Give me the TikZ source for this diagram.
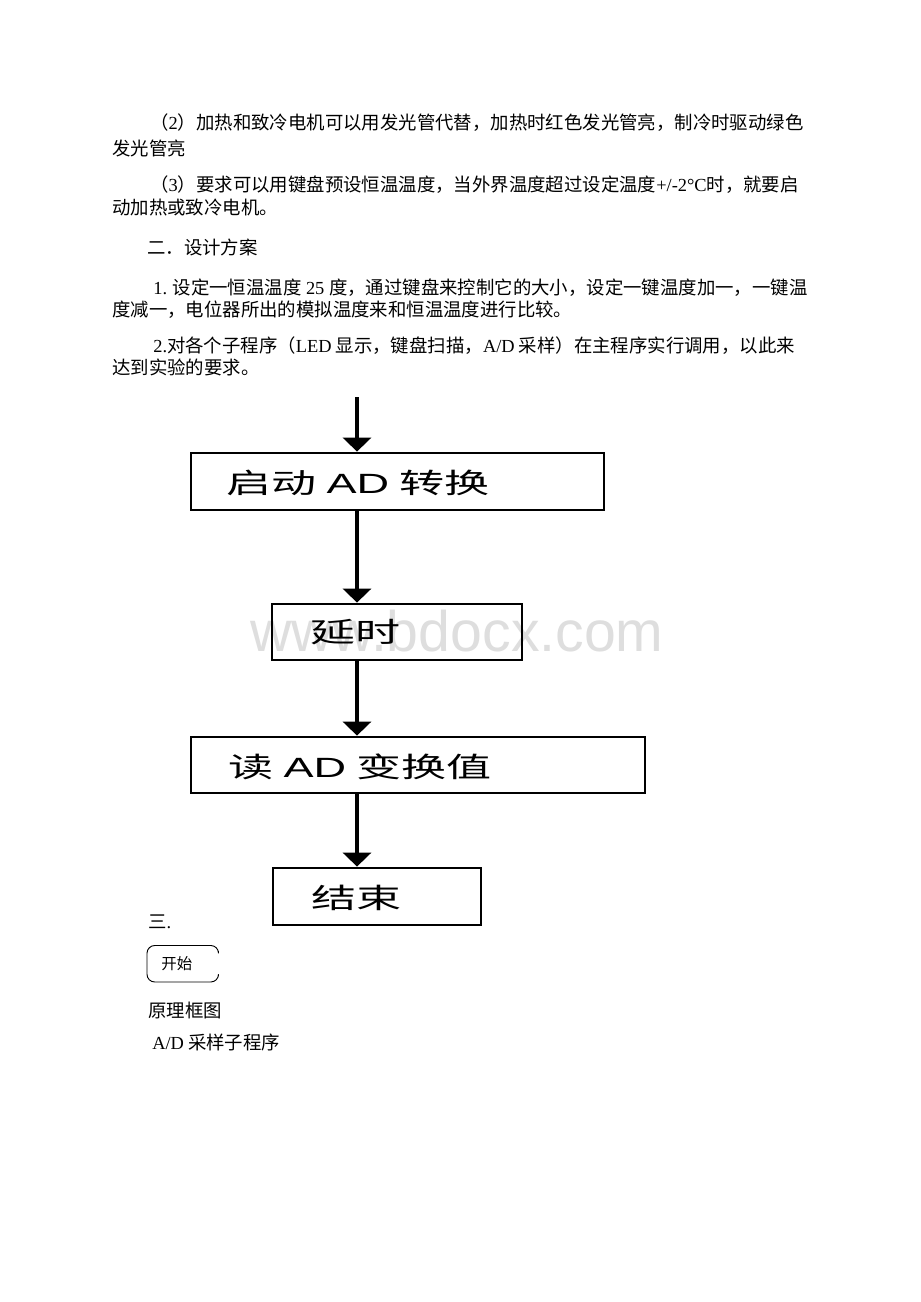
\documentclass[tikz,border=0pt]{standalone}
\usepackage{fontspec}
\usepackage{graphicx}
\setmainfont{Noto Sans CJK SC}
\newfontfamily\lat{Liberation Serif}
\newfontfamily\latsans{Liberation Sans}
\usetikzlibrary{arrows.meta,fit}
\tikzset{
  bodytext/.style={anchor=west,inner sep=0pt,font=\fontsize{11.9pt}{14pt}\selectfont},
  flowbox/.style={draw,line width=1.8pt,inner sep=0pt},
  flowtext/.style={anchor=west,inner sep=0pt,font=\fontsize{18pt}{21pt}\selectfont},
  flowarrow/.style={line width=3pt,-{Triangle[width=18pt,length=9pt]}}
}
\newcommand{\wide}[1]{\scalebox{1.62}[1]{#1}}
\begin{document}
\begin{tikzpicture}[x=0.64674pt,y=-0.64674pt]
\fill[white] (0,0) rectangle (920,1302);
\useasboundingbox (0,0) rectangle (920,1302);

% paragraph text
\node[bodytext] (l1) at (150,123) {（{\lat 2}）加热和致冷电机可以用发光管代替，加热时红色发光管亮，制冷时驱动绿色};
\node[bodytext] (l2) at (112,148) {发光管亮};
\node[bodytext] (l3) at (150,185) {（{\lat 3}）要求可以用键盘预设恒温温度，当外界温度超过设定温度{\lat +/-2°C}时，就要启};
\node[bodytext] (l4) at (112,208) {动加热或致冷电机。};
\node[bodytext] (l5) at (147,247) {二．设计方案};
\node[bodytext] (l6) at (153,288) {{\lat 1.} 设定一恒温温度{\lat\ 25 }度，通过键盘来控制它的大小，设定一键温度加一，一键温};
\node[bodytext] (l7) at (112,310) {度减一，电位器所出的模拟温度来和恒温温度进行比较。};
\node[bodytext] (l8) at (153,346) {{\lat 2.}对各个子程序（{\lat LED} 显示，键盘扫描，{\lat A/D} 采样）在主程序实行调用，以此来};
\node[bodytext] (l9) at (112,367) {达到实验的要求。};

% watermark
\node[anchor=west,inner sep=0pt,text=black!13,font=\latsans\fontsize{37pt}{40pt}\selectfont] (wm) at (250,631) {www.bdocx.com};

% flowchart boxes
\node[flowbox,fit={(191,453) (604,510)}] (b1) {};
\node[flowbox,fit={(272,604) (522,660)}] (b2) {};
\node[flowbox,fit={(191,737) (645,793)}] (b3) {};
\node[flowbox,fit={(273,868) (481,925)}] (b4) {};

\node[flowtext] (t1) at (226,483) {\wide{启动 {\latsans AD} 转换}};
\node[flowtext] (t2) at (310,632) {\wide{延时}};
\node[flowtext] (t3) at (228,767) {\wide{读 {\latsans AD} 变换值}};
\node[flowtext] (t4) at (311,898) {\wide{结束}};

% connectors
\coordinate (c0) at (357,397);
\draw[flowarrow] (c0) -- (c0 |- b1.north);
\draw[flowarrow] (c0 |- b1.south) -- (c0 |- b2.north);
\draw[flowarrow] (c0 |- b2.south) -- (c0 |- b3.north);
\draw[flowarrow] (c0 |- b3.south) -- (c0 |- b4.north);

% lower text
\node[bodytext] (s3) at (148,922) {三{\lat .}};
\draw[line width=0.6pt,rounded corners=5] (218.5,951) |- (147,945.5) |- (218.5,982) -- (218.5,976);
\node[anchor=west,inner sep=0pt,font=\fontsize{10pt}{12pt}\selectfont] (ks) at (161,964) {开始};
\node[bodytext] (yl) at (148,1010) {原理框图};
\node[bodytext] (ad) at (152,1042) {{\lat A/D} 采样子程序};
\end{tikzpicture}
\end{document}
